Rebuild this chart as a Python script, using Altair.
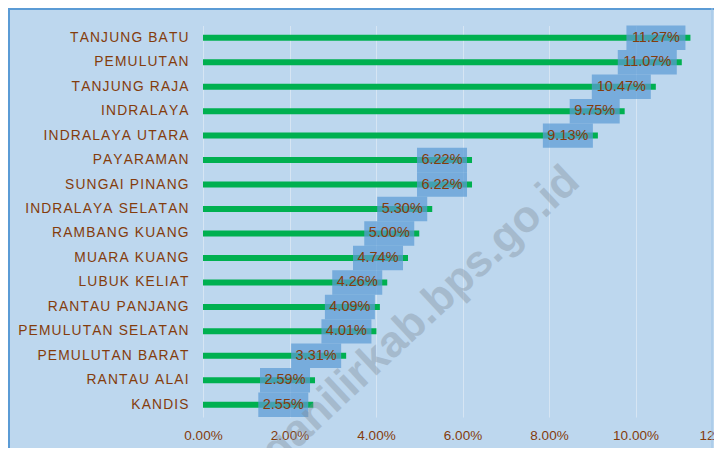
import altair as alt
import pandas as pd

names = ["TANJUNG BATU", "PEMULUTAN", "TANJUNG RAJA", "INDRALAYA", "INDRALAYA UTARA",
         "PAYARAMAN", "SUNGAI PINANG", "INDRALAYA SELATAN", "RAMBANG KUANG",
         "MUARA KUANG", "LUBUK KELIAT", "RANTAU PANJANG", "PEMULUTAN SELATAN",
         "PEMULUTAN BARAT", "RANTAU ALAI", "KANDIS"]
values_pct = [11.27, 11.07, 10.47, 9.75, 9.13, 6.22, 6.22, 5.30, 5.00, 4.74,
              4.26, 4.09, 4.01, 3.31, 2.59, 2.55]
x_ticks = [0, 0.02, 0.04, 0.06, 0.08, 0.10, 0.12]
watermark = "oganilirkab.bps.go.id"

BG = "#BDD7EE"
BROWN = "#843C0C"
GREEN = "#00B050"
FONT = "Liberation Sans"

df = pd.DataFrame({"name": names, "pct": values_pct})
df["v"] = df["pct"] / 100.0
df["label"] = [f"{p:.2f}%" for p in values_pct]
df["wide"] = df["label"].str.len() > 5

base = alt.Chart(df)

y_enc = alt.Y("name:N", sort=names, title=None,
              scale=alt.Scale(paddingInner=0, paddingOuter=0),
              axis=alt.Axis(labelFont=FONT, labelFontSize=13.8, labelColor=BROWN,
                            labelPadding=15, ticks=False, domain=False, grid=False,
                            labelExpr="join(split(datum.label, ''), '\u200a')"))
x_enc = alt.X("v:Q", title=None,
              scale=alt.Scale(domain=[0, 0.12], nice=False),
              axis=alt.Axis(values=x_ticks, format=".2%", labelFont=FONT,
                            labelFontSize=13.5, labelColor=BROWN, labelPadding=11,
                            labelFlush=False, labelOverlap=False,
                            ticks=False, domain=False, grid=True,
                            gridColor="#D6E5F3", gridWidth=1))

bars = base.mark_bar(color=GREEN, size=6).encode(x=x_enc, y=y_enc)

box_narrow = base.transform_filter("!datum.wide").mark_rect(
    color="#5B9BD5", opacity=0.72, xOffset=-55, x2Offset=-5
).encode(x="v:Q", x2="v:Q", y=alt.Y("name:N", sort=names))

box_wide = base.transform_filter("datum.wide").mark_rect(
    color="#5B9BD5", opacity=0.72, xOffset=-64, x2Offset=-5
).encode(x="v:Q", x2="v:Q", y=alt.Y("name:N", sort=names))

txt_narrow = base.transform_filter("!datum.wide").mark_text(
    font=FONT, fontSize=14.5, color=BROWN, align="center", baseline="middle", dx=-30
).encode(x="v:Q", y=alt.Y("name:N", sort=names), text="label:N")

txt_wide = base.transform_filter("datum.wide").mark_text(
    font=FONT, fontSize=14.5, color=BROWN, align="center", baseline="middle", dx=-34.5
).encode(x="v:Q", y=alt.Y("name:N", sort=names), text="label:N")

wm = alt.Chart(pd.DataFrame({"t": [watermark]})).mark_text(
    font=FONT, fontSize=44, fontWeight="bold", color="#7F8C99", opacity=0.38,
    angle=317, align="center", baseline="middle"
).encode(x=alt.value(208), y=alt.value(300), text="t:N")

frame_df = pd.DataFrame({"k": [0]})
frame_left = alt.Chart(frame_df).mark_rule(color="#5B9BD5", strokeWidth=2).encode(
    x=alt.value(-194), y=alt.value(-18), y2=alt.value(440))
frame_top = alt.Chart(frame_df).mark_rule(color="#5B9BD5", strokeWidth=2).encode(
    x=alt.value(-195), x2=alt.value(514), y=alt.value(-16.5))
frame_right = alt.Chart(frame_df).mark_rule(color="#9DC3E6", strokeWidth=1).encode(
    x=alt.value(509), y=alt.value(-18), y2=alt.value(440))

chart = alt.layer(bars, box_narrow, box_wide, txt_narrow, txt_wide, wm,
                  frame_left, frame_top, frame_right).properties(
    width=519, height=391.5,
    padding={"left": 195, "top": 17.5, "right": -8, "bottom": 31},
    autosize=alt.AutoSizeParams(type="none"),
    background=BG,
).configure_view(stroke=None)

chart.save("out.html", embed_options={"renderer": "svg", "actions": False})
